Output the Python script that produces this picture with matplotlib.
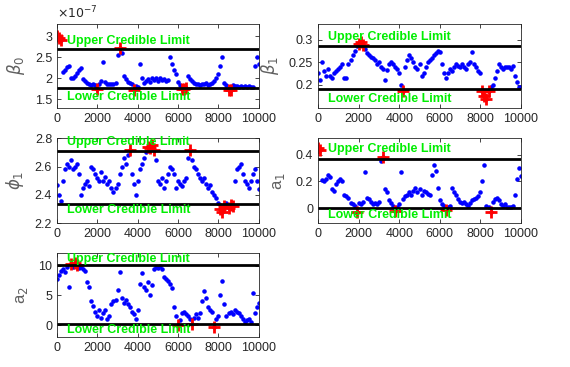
import numpy as np
import matplotlib.pyplot as plt
from matplotlib.ticker import FuncFormatter

# -----------------------------------------------------
#  Trace values, read at every 100 iterations
# -----------------------------------------------------
iters = np.arange(0, 10001, 100)

beta0 = np.array([
    3.02, 2.97, 2.92, 2.15, 2.20, 2.28, 2.30, 2.02, 2.00, 2.05,
    2.12, 2.20, 2.25, 1.98, 1.95, 1.90, 1.88, 1.85, 1.86, 1.84,
    1.74, 1.88, 1.95, 2.40, 1.92, 1.88, 1.87, 1.86, 1.88, 1.90,
    2.55, 2.72, 2.60, 2.05, 1.98, 1.92, 1.90, 1.86, 1.73, 1.82,
    1.80, 2.35, 2.00, 1.90, 1.95, 1.98, 1.92, 2.00, 1.96, 2.00,
    1.95, 2.02, 1.97, 1.99, 1.94, 1.96, 2.50, 2.35, 2.20, 2.10,
    1.92, 1.85, 1.76, 1.74, 1.77, 2.05, 1.98, 1.95, 1.90, 1.88,
    1.86, 1.85, 1.88, 1.86, 1.90, 1.85, 1.87, 1.90, 1.95, 2.00,
    2.10, 2.30, 2.50, 1.90, 1.85, 1.73, 1.72, 1.85, 1.82, 1.83,
    1.80, 1.82, 1.80, 1.81, 1.80, 1.82, 1.80, 1.79, 2.30, 2.50,
    2.35]) * 1e-7

beta1 = np.array([
    0.225, 0.210, 0.250, 0.230, 0.220, 0.235, 0.220, 0.215, 0.225, 0.230,
    0.235, 0.240, 0.245, 0.215, 0.215, 0.245, 0.255, 0.265, 0.275, 0.285,
    0.290, 0.295, 0.288, 0.280, 0.270, 0.265, 0.262, 0.258, 0.255, 0.245,
    0.250, 0.240, 0.235, 0.210, 0.232, 0.245, 0.250, 0.245, 0.240, 0.235,
    0.225, 0.200, 0.185, 0.240, 0.255, 0.265, 0.260, 0.250, 0.240, 0.235,
    0.245, 0.220, 0.225, 0.240, 0.250, 0.255, 0.260, 0.265, 0.270, 0.275,
    0.272, 0.245, 0.225, 0.215, 0.225, 0.235, 0.230, 0.240, 0.245, 0.242,
    0.238, 0.245, 0.240, 0.235, 0.245, 0.250, 0.272, 0.245, 0.240, 0.230,
    0.225, 0.185, 0.175, 0.168, 0.185, 0.195, 0.200, 0.215, 0.230, 0.245,
    0.240, 0.235, 0.240, 0.238, 0.240, 0.235, 0.242, 0.220, 0.205, 0.195,
    0.195])

phi1 = np.array([
    2.47, 2.40, 2.36, 2.50, 2.58, 2.62, 2.60, 2.65, 2.58, 2.60,
    2.62, 2.55, 2.40, 2.45, 2.48, 2.50, 2.46, 2.60, 2.58, 2.55,
    2.52, 2.50, 2.56, 2.50, 2.53, 2.48, 2.50, 2.45, 2.42, 2.45,
    2.48, 2.55, 2.60, 2.66, 2.62, 2.68, 2.72, 2.55, 2.48, 2.40,
    2.50, 2.58, 2.62, 2.66, 2.70, 2.74, 2.73, 2.75, 2.72, 2.65,
    2.50, 2.48, 2.52, 2.45, 2.50, 2.55, 2.60, 2.58, 2.55, 2.45,
    2.50, 2.48, 2.46, 2.50, 2.52, 2.66, 2.72, 2.65, 2.60, 2.58,
    2.55, 2.52, 2.50, 2.52, 2.48, 2.45, 2.47, 2.42, 2.40, 2.38,
    2.34, 2.30, 2.28, 2.32, 2.34, 2.31, 2.33, 2.32, 2.50, 2.58,
    2.60, 2.62, 2.55, 2.50, 2.48, 2.45, 2.50, 2.55, 2.58, 2.50,
    2.44])

a1 = np.array([
    0.45, 0.43, 0.21, 0.20, 0.22, 0.25, 0.23, 0.14, 0.13, 0.18,
    0.20, 0.22, 0.20, 0.10, 0.09, 0.08, 0.04, 0.03, 0.02, -0.03,
    0.04, 0.03, 0.05, 0.27, 0.08, 0.07, 0.05, 0.03, 0.04, 0.03,
    0.05, 0.35, 0.38, 0.14, 0.12, 0.06, 0.04, 0.02, -0.02, 0.01,
    0.03, 0.27, 0.07, 0.09, 0.10, 0.12, 0.10, 0.13, 0.15, 0.12,
    0.14, 0.10, 0.13, 0.12, 0.11, 0.10, 0.25, 0.32, 0.28, 0.15,
    0.06, 0.03, 0.02, -0.01, 0.01, 0.02, 0.15, 0.12, 0.10, 0.07,
    0.05, 0.04, 0.05, 0.03, 0.02, 0.04, 0.06, 0.07, 0.08, 0.09,
    0.12, 0.20, 0.32, 0.02, 0.01, -0.03, 0.05, 0.07, 0.08, 0.06,
    0.03, 0.02, 0.03, 0.01, 0.01, 0.01, 0.02, 0.10, 0.22, 0.30,
    0.24])

a2 = np.array([
    7.8, 8.5, 9.2, 9.5, 9.0, 9.8, 6.5, 10.4, 9.8, 10.5,
    10.2, 9.6, 9.8, 9.5, 9.2, 7.2, 6.5, 4.0, 3.2, 2.2,
    1.5, 2.5, 1.2, 2.0, 2.5, 1.0, 1.5, 3.5, 4.0, 4.2,
    6.0, 9.0, 4.5, 3.8, 4.2, 3.5, 3.0, 2.2, 1.8, 1.0,
    2.5, 7.0, 8.8, 6.5, 6.0, 7.2, 5.0, 6.8, 9.5, 9.8,
    9.6, 9.9, 9.5, 8.2, 7.8, 7.5, 7.0, 6.2, 3.0, 1.5,
    0.0, 0.8, 2.0, 2.2, 1.8, 1.5, 1.0, 0.1, 1.2, 1.8,
    1.2, 2.0, 4.0, 5.8, 4.5, 3.0, 2.5, 2.2, -0.3, 1.0,
    1.5, 5.0, 7.5, 3.5, 1.5, 2.0, 2.2, 1.8, 2.5, 2.2,
    2.0, 1.5, 1.0, 0.6, 0.8, 1.0, 0.5, 5.5, 2.0, 3.0,
    3.8])

# credible limits (upper, lower) per parameter
limits_beta0 = (2.69e-7, 1.78e-7)
limits_beta1 = (0.2855, 0.19)
limits_phi1 = (2.71, 2.333)
limits_a1 = (0.37, 0.0)
limits_a2 = (10.1, 0.17)

# -----------------------------------------------------
#  Panel layout
# -----------------------------------------------------
panels = [
    # series, limits, ylabel, ylim, yticks, text y (upper, lower), axes rect, tick scale
    (beta0, limits_beta0, r'$\beta_0$', (1.3e-7, 3.3e-7), [1.5e-7, 2e-7, 2.5e-7, 3e-7],
     (2.9e-7, 1.57e-7), [0.100, 0.706, 0.354, 0.229], 1e-7),
    (beta1, limits_beta1, r'$\beta_1$', (0.148, 0.335), [0.2, 0.25, 0.3],
     (0.306, 0.168), [0.558, 0.706, 0.356, 0.229], 1),
    (phi1, limits_phi1, r'$\phi_1$', (2.2, 2.8), [2.2, 2.4, 2.6, 2.8],
     (2.771, 2.29), [0.100, 0.392, 0.354, 0.231], 1),
    (a1, limits_a1, r'a$_1$', (-0.11, 0.52), [0, 0.2, 0.4],
     (0.4425, -0.05), [0.558, 0.392, 0.356, 0.231], 1),
    (a2, limits_a2, r'a$_2$', (-2.0, 12.2), [0, 5, 10],
     (11.1, -0.84), [0.100, 0.082, 0.354, 0.229], 1),
]

plt.rcParams['font.family'] = ['Liberation Sans', 'DejaVu Sans']
plt.rcParams['mathtext.fontset'] = 'dejavusans'

fig = plt.figure(figsize=(5.7, 3.67), dpi=100)

for series, (upper, lower), ylab, ylim, yticks, (ty_up, ty_lo), rect, scale in panels:
    ax = fig.add_axes(rect)
    out = (series > upper) | (series < lower)
    ax.plot(iters, series, '.', color='blue', markersize=4.5)
    ax.plot(iters[out], series[out], '+', color='red', markersize=8, mew=2)
    ax.plot([0, 10000], [upper, upper], 'k-', linewidth=2)
    ax.plot([0, 10000], [lower, lower], 'k-', linewidth=2)
    ax.text(500, ty_up, 'Upper Credible Limit', color='#00ee00',
            fontsize=9, fontweight='bold', va='center', ha='left')
    ax.text(500, ty_lo, 'Lower Credible Limit', color='#00ee00',
            fontsize=9, fontweight='bold', va='center', ha='left')
    ax.set_xlim(0, 10000)
    ax.set_ylim(*ylim)
    ax.set_xticks([0, 2000, 4000, 6000, 8000, 10000])
    ax.set_yticks(yticks)
    ax.yaxis.set_major_formatter(FuncFormatter(lambda v, p, s=scale: '%g' % round(v / s, 6)))
    ax.set_ylabel(ylab, fontsize=12, color='#606060', labelpad=6)
    ax.tick_params(direction='in', top=True, right=True, length=3,
                   labelsize=9, colors='#262626', width=0.6)
    for s in ax.spines.values():
        s.set_color('#262626')
        s.set_linewidth(0.6)
    if scale != 1:
        ax.text(0, 1.03, r'$\times10^{-7}$', transform=ax.transAxes,
                fontsize=9, color='#262626', ha='left', va='bottom')

fig.savefig('out.png', dpi=100)
